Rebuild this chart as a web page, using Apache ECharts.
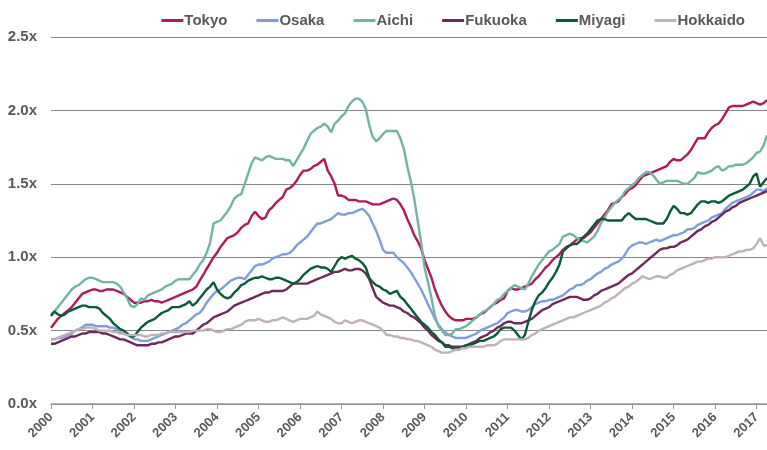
<!DOCTYPE html>
<html>
<head>
<meta charset="utf-8">
<script src="https://cdn.jsdelivr.net/npm/echarts@6/dist/echarts.min.js"></script>
<style>
  html, body { margin: 0; padding: 0; background: #fff; }
  #chart { width: 767px; height: 450px; }
</style>
</head>
<body>
<div id="chart"></div>
<script>
// monthly, Jan 2000 .. Apr 2017
const years = [2000, 2001, 2002, 2003, 2004, 2005, 2006, 2007, 2008,
  2009, 2010, 2011, 2012, 2013, 2014, 2015, 2016, 2017];
const lastMonth = 4; // data stops in April 2017

const tokyo = [
  0.52, 0.55, 0.58, 0.60, 0.62, 0.64, 0.66, 0.69, 0.72, 0.75, 0.76, 0.77,
  0.78, 0.78, 0.77, 0.77, 0.78, 0.78, 0.78, 0.77, 0.76, 0.75, 0.73, 0.71,
  0.69, 0.69, 0.69, 0.70, 0.70, 0.71, 0.70, 0.70, 0.69, 0.70, 0.71, 0.72,
  0.73, 0.74, 0.75, 0.76, 0.77, 0.78, 0.80, 0.84, 0.88, 0.92, 0.96, 1.00,
  1.03, 1.07, 1.10, 1.13, 1.14, 1.15, 1.17, 1.20, 1.22, 1.23, 1.28, 1.31,
  1.28, 1.26, 1.27, 1.32, 1.34, 1.37, 1.39, 1.41, 1.46, 1.47, 1.49, 1.52,
  1.56, 1.59, 1.59, 1.60, 1.62, 1.63, 1.65, 1.67, 1.59, 1.55, 1.50, 1.42,
  1.42, 1.41, 1.39, 1.39, 1.39, 1.38, 1.38, 1.38, 1.37, 1.36, 1.36, 1.36,
  1.37, 1.38, 1.39, 1.40, 1.39, 1.36, 1.32, 1.26, 1.21, 1.15, 1.11, 1.06,
  0.98, 0.92, 0.86, 0.78, 0.72, 0.67, 0.63, 0.60, 0.58, 0.57, 0.57, 0.57,
  0.58, 0.58, 0.58, 0.59, 0.61, 0.62, 0.64, 0.66, 0.68, 0.69, 0.71, 0.72,
  0.77, 0.79, 0.78, 0.78, 0.79, 0.80, 0.81, 0.82, 0.85, 0.87, 0.90, 0.93,
  0.95, 0.98, 1.00, 1.02, 1.05, 1.07, 1.08, 1.10, 1.12, 1.13, 1.13, 1.15,
  1.17, 1.20, 1.23, 1.26, 1.29, 1.32, 1.36, 1.37, 1.38, 1.41, 1.43, 1.46,
  1.47, 1.49, 1.52, 1.55, 1.56, 1.57, 1.58, 1.59, 1.60, 1.61, 1.62, 1.65,
  1.67, 1.66, 1.66, 1.68, 1.70, 1.73, 1.77, 1.81, 1.81, 1.81, 1.85, 1.88,
  1.90, 1.91, 1.94, 1.98, 2.02, 2.03, 2.03, 2.03, 2.03, 2.04, 2.05, 2.06,
  2.05, 2.04, 2.05, 2.07
];

const osaka = [
  0.44, 0.44, 0.45, 0.45, 0.46, 0.47, 0.48, 0.50, 0.51, 0.52, 0.54, 0.54,
  0.54, 0.53, 0.53, 0.53, 0.53, 0.52, 0.52, 0.51, 0.49, 0.48, 0.47, 0.46,
  0.44, 0.44, 0.43, 0.43, 0.43, 0.44, 0.45, 0.46, 0.47, 0.48, 0.49, 0.50,
  0.51, 0.52, 0.54, 0.55, 0.57, 0.59, 0.61, 0.62, 0.65, 0.69, 0.72, 0.75,
  0.77, 0.78, 0.80, 0.82, 0.84, 0.85, 0.86, 0.86, 0.85, 0.88, 0.91, 0.94,
  0.95, 0.95, 0.96, 0.97, 0.99, 1.00, 1.01, 1.02, 1.02, 1.03, 1.05, 1.08,
  1.10, 1.12, 1.14, 1.17, 1.20, 1.23, 1.23, 1.24, 1.25, 1.26, 1.28, 1.30,
  1.29, 1.29, 1.30, 1.30, 1.31, 1.32, 1.33, 1.31, 1.28, 1.23, 1.18, 1.12,
  1.05, 1.03, 1.03, 1.03, 1.00, 0.98, 0.96, 0.93, 0.90, 0.86, 0.82, 0.78,
  0.73, 0.68, 0.63, 0.58, 0.54, 0.51, 0.49, 0.47, 0.46, 0.45, 0.45, 0.45,
  0.45, 0.46, 0.47, 0.48, 0.50, 0.51, 0.52, 0.53, 0.54, 0.55, 0.57, 0.59,
  0.62, 0.63, 0.64, 0.64, 0.63, 0.63, 0.64, 0.66, 0.68, 0.69, 0.70, 0.70,
  0.71, 0.71, 0.72, 0.73, 0.74, 0.76, 0.78, 0.79, 0.81, 0.81, 0.82, 0.84,
  0.85, 0.87, 0.89, 0.90, 0.92, 0.93, 0.95, 0.96, 0.97, 0.99, 1.02, 1.06,
  1.08, 1.09, 1.10, 1.10, 1.09, 1.10, 1.11, 1.12, 1.11, 1.12, 1.13, 1.14,
  1.15, 1.15, 1.16, 1.17, 1.19, 1.19, 1.20, 1.22, 1.23, 1.24, 1.25, 1.27,
  1.28, 1.29, 1.30, 1.33, 1.35, 1.37, 1.38, 1.39, 1.40, 1.41, 1.42, 1.44,
  1.46, 1.46, 1.45, 1.47
];

const aichi = [
  0.61, 0.63, 0.66, 0.69, 0.72, 0.75, 0.78, 0.80, 0.81, 0.83, 0.85, 0.86,
  0.86, 0.85, 0.84, 0.83, 0.83, 0.83, 0.83, 0.82, 0.80, 0.76, 0.72, 0.67,
  0.66, 0.68, 0.72, 0.71, 0.74, 0.75, 0.76, 0.77, 0.78, 0.80, 0.81, 0.82,
  0.84, 0.85, 0.85, 0.85, 0.85, 0.88, 0.91, 0.95, 0.98, 1.03, 1.10, 1.23,
  1.24, 1.25, 1.28, 1.31, 1.35, 1.40, 1.42, 1.43, 1.50, 1.57, 1.64, 1.68,
  1.67, 1.66, 1.68, 1.69, 1.68, 1.67, 1.67, 1.67, 1.66, 1.66, 1.62, 1.66,
  1.70, 1.74, 1.79, 1.84, 1.86, 1.88, 1.89, 1.91, 1.89, 1.85, 1.91, 1.93,
  1.96, 1.98, 2.03, 2.06, 2.08, 2.08, 2.06, 2.01, 1.90, 1.82, 1.79, 1.81,
  1.84, 1.86, 1.86, 1.86, 1.86, 1.81, 1.74, 1.62, 1.52, 1.40, 1.25, 1.10,
  0.93, 0.83, 0.72, 0.60, 0.53, 0.50, 0.47, 0.47, 0.48, 0.51, 0.51, 0.52,
  0.53, 0.55, 0.57, 0.59, 0.61, 0.63, 0.64, 0.66, 0.68, 0.71, 0.72, 0.75,
  0.77, 0.79, 0.81, 0.80, 0.79, 0.78, 0.82, 0.87, 0.91, 0.95, 0.98, 1.01,
  1.04, 1.05, 1.07, 1.09, 1.14, 1.15, 1.16, 1.15, 1.13, 1.12, 1.11, 1.10,
  1.12, 1.14, 1.18, 1.23, 1.27, 1.31, 1.34, 1.37, 1.39, 1.41, 1.45, 1.47,
  1.49, 1.51, 1.54, 1.56, 1.58, 1.58, 1.56, 1.53, 1.50, 1.51, 1.52, 1.52,
  1.52, 1.52, 1.51, 1.50, 1.50, 1.52, 1.54, 1.58, 1.57, 1.57, 1.58, 1.59,
  1.61, 1.62, 1.59, 1.60, 1.62, 1.62, 1.63, 1.63, 1.63, 1.64, 1.66, 1.68,
  1.71, 1.72, 1.76, 1.83
];

const fukuoka = [
  0.41, 0.41, 0.42, 0.43, 0.44, 0.45, 0.46, 0.46, 0.47, 0.48, 0.48, 0.49,
  0.49, 0.49, 0.49, 0.48, 0.48, 0.47, 0.46, 0.45, 0.44, 0.44, 0.43, 0.42,
  0.41, 0.40, 0.40, 0.40, 0.40, 0.41, 0.41, 0.42, 0.42, 0.43, 0.44, 0.45,
  0.46, 0.46, 0.47, 0.48, 0.48, 0.48, 0.50, 0.52, 0.54, 0.55, 0.57, 0.59,
  0.60, 0.61, 0.62, 0.63, 0.65, 0.67, 0.68, 0.69, 0.70, 0.71, 0.72, 0.73,
  0.74, 0.75, 0.76, 0.76, 0.77, 0.77, 0.77, 0.77, 0.78, 0.80, 0.82, 0.82,
  0.82, 0.82, 0.82, 0.83, 0.84, 0.85, 0.86, 0.87, 0.88, 0.89, 0.90, 0.90,
  0.91, 0.92, 0.91, 0.91, 0.92, 0.92, 0.91, 0.89, 0.85, 0.79, 0.73, 0.71,
  0.69, 0.68, 0.67, 0.67, 0.66, 0.65, 0.63, 0.62, 0.60, 0.59, 0.57, 0.55,
  0.52, 0.50, 0.47, 0.45, 0.43, 0.42, 0.40, 0.40, 0.39, 0.39, 0.39, 0.39,
  0.40, 0.41, 0.42, 0.43, 0.45, 0.46, 0.47, 0.49, 0.50, 0.52, 0.53, 0.55,
  0.56, 0.56, 0.55, 0.55, 0.55, 0.56, 0.57, 0.58, 0.60, 0.62, 0.64, 0.65,
  0.66, 0.68, 0.69, 0.70, 0.71, 0.72, 0.73, 0.73, 0.73, 0.72, 0.71, 0.71,
  0.72, 0.74, 0.75, 0.77, 0.78, 0.79, 0.80, 0.81, 0.82, 0.84, 0.86, 0.88,
  0.89, 0.91, 0.93, 0.95, 0.97, 0.99, 1.01, 1.03, 1.05, 1.06, 1.06, 1.07,
  1.07, 1.08, 1.10, 1.11, 1.12, 1.14, 1.16, 1.18, 1.19, 1.21, 1.22, 1.24,
  1.25, 1.27, 1.29, 1.31, 1.32, 1.34, 1.35, 1.37, 1.38, 1.39, 1.40, 1.41,
  1.42, 1.43, 1.44, 1.45
];

const miyagi = [
  0.60, 0.63, 0.61, 0.60, 0.61, 0.63, 0.64, 0.65, 0.66, 0.67, 0.67, 0.66,
  0.66, 0.66, 0.65, 0.62, 0.60, 0.58, 0.55, 0.53, 0.51, 0.50, 0.48, 0.46,
  0.46, 0.49, 0.52, 0.54, 0.56, 0.57, 0.58, 0.60, 0.62, 0.63, 0.64, 0.66,
  0.66, 0.66, 0.67, 0.68, 0.70, 0.67, 0.69, 0.72, 0.75, 0.78, 0.80, 0.83,
  0.78, 0.75, 0.73, 0.72, 0.73, 0.76, 0.78, 0.81, 0.82, 0.84, 0.85, 0.86,
  0.86, 0.87, 0.86, 0.85, 0.85, 0.86, 0.86, 0.85, 0.84, 0.83, 0.82, 0.83,
  0.85, 0.88, 0.90, 0.92, 0.93, 0.94, 0.93, 0.93, 0.92, 0.90, 0.94, 0.98,
  1.00, 0.99, 1.00, 1.01, 0.99, 0.98, 0.96, 0.93, 0.86, 0.83, 0.81, 0.80,
  0.78, 0.77, 0.75, 0.76, 0.77, 0.73, 0.71, 0.68, 0.65, 0.62, 0.59, 0.56,
  0.54, 0.52, 0.49, 0.47, 0.44, 0.42, 0.39, 0.39, 0.38, 0.38, 0.38, 0.39,
  0.40, 0.40, 0.41, 0.42, 0.43, 0.43, 0.44, 0.45, 0.46, 0.48, 0.51, 0.52,
  0.52, 0.52, 0.50, 0.47, 0.44, 0.47, 0.56, 0.64, 0.70, 0.74, 0.76, 0.79,
  0.83, 0.86, 0.90, 0.95, 1.04, 1.06, 1.08, 1.09, 1.09, 1.11, 1.14, 1.16,
  1.19, 1.22, 1.25, 1.26, 1.26, 1.25, 1.25, 1.25, 1.25, 1.25, 1.28, 1.30,
  1.28, 1.26, 1.26, 1.26, 1.26, 1.25, 1.24, 1.23, 1.23, 1.23, 1.26, 1.31,
  1.35, 1.33, 1.30, 1.30, 1.29, 1.30, 1.33, 1.36, 1.38, 1.38, 1.37, 1.38,
  1.38, 1.37, 1.38, 1.40, 1.42, 1.43, 1.44, 1.45, 1.46, 1.48, 1.50, 1.55,
  1.57, 1.48, 1.51, 1.54
];

const hokkaido = [
  0.44, 0.44, 0.45, 0.46, 0.47, 0.48, 0.49, 0.50, 0.51, 0.51, 0.52, 0.52,
  0.52, 0.51, 0.50, 0.50, 0.50, 0.50, 0.49, 0.49, 0.48, 0.48, 0.47, 0.47,
  0.47, 0.47, 0.47, 0.46, 0.46, 0.47, 0.47, 0.47, 0.48, 0.48, 0.49, 0.49,
  0.49, 0.49, 0.49, 0.49, 0.49, 0.50, 0.50, 0.50, 0.50, 0.51, 0.51, 0.50,
  0.49, 0.49, 0.50, 0.51, 0.51, 0.52, 0.53, 0.54, 0.56, 0.57, 0.57, 0.57,
  0.58, 0.57, 0.56, 0.56, 0.57, 0.57, 0.58, 0.59, 0.58, 0.57, 0.56, 0.57,
  0.58, 0.58, 0.58, 0.59, 0.60, 0.63, 0.61, 0.60, 0.59, 0.58, 0.56, 0.55,
  0.55, 0.57, 0.56, 0.55, 0.56, 0.57, 0.57, 0.56, 0.55, 0.54, 0.53, 0.52,
  0.50, 0.47, 0.47, 0.46, 0.46, 0.45, 0.45, 0.44, 0.44, 0.43, 0.43, 0.42,
  0.41, 0.40, 0.39, 0.37, 0.36, 0.35, 0.35, 0.35, 0.36, 0.37, 0.37, 0.38,
  0.38, 0.39, 0.39, 0.39, 0.39, 0.39, 0.40, 0.40, 0.40, 0.41, 0.43, 0.44,
  0.44, 0.44, 0.44, 0.44, 0.44, 0.44, 0.45, 0.47, 0.48, 0.50, 0.51, 0.52,
  0.53, 0.54, 0.55, 0.56, 0.57, 0.58, 0.59, 0.59, 0.60, 0.61, 0.62, 0.63,
  0.64, 0.65, 0.66, 0.67, 0.69, 0.70, 0.72, 0.73, 0.75, 0.77, 0.79, 0.80,
  0.82, 0.83, 0.85, 0.87, 0.86, 0.85, 0.86, 0.87, 0.87, 0.86, 0.86, 0.88,
  0.89, 0.91, 0.92, 0.93, 0.94, 0.95, 0.96, 0.97, 0.97, 0.98, 0.99, 0.99,
  1.00, 1.00, 1.00, 1.00, 1.01, 1.02, 1.03, 1.04, 1.04, 1.05, 1.05, 1.06,
  1.09, 1.13, 1.08, 1.08
];

const yTicks = [0, 0.5, 1.0, 1.5, 2.0, 2.5];

// month categories built from the year list
const months = [];
years.forEach(y => {
  for (let m = 1; m <= 12; m++) {
    if (y === 2017 && m > lastMonth) break;
    months.push(y + '-' + String(m).padStart(2, '0'));
  }
});

const textColor = '#595959';
const font = "'Liberation Sans', Arial, sans-serif";

const seriesList = [
  { name: 'Tokyo', data: tokyo, color: '#b0195b' },
  { name: 'Osaka', data: osaka, color: '#7f9dd8' },
  { name: 'Aichi', data: aichi, color: '#72b3a3' },
  { name: 'Fukuoka', data: fukuoka, color: '#6b2b58' },
  { name: 'Miyagi', data: miyagi, color: '#0b5a36' },
  { name: 'Hokkaido', data: hokkaido, color: '#bfb1b7' }
];

const chart = echarts.init(document.getElementById('chart'), null, { renderer: 'canvas' });

const isJan = (idx) => months[idx].endsWith('-01');

chart.setOption({
  animation: false,
  color: seriesList.map(s => s.color),
  legend: {
    top: 8,
    right: 17,
    itemGap: 29,
    itemWidth: 22,
    itemHeight: 3,
    icon: 'rect',
    textStyle: { color: textColor, fontSize: 15, fontWeight: 'bold', fontFamily: font, padding: [0, 0, 0, -4] },
    data: seriesList.map(s => s.name)
  },
  grid: { left: 51, right: 0, top: 37, bottom: 46, containLabel: false },
  xAxis: {
    type: 'category',
    data: months,
    boundaryGap: false,
    axisLine: { lineStyle: { color: '#999', width: 1.5 } },
    axisTick: { interval: (i) => isJan(i), length: 5, lineStyle: { color: '#999', width: 1 } },
    axisLabel: {
      interval: (i) => isJan(i),
      formatter: (v) => v.slice(0, 4),
      rotate: 45,
      margin: 11,
      color: textColor,
      fontSize: 13,
      fontWeight: 'bold',
      fontFamily: font
    },
    splitLine: { show: false }
  },
  yAxis: {
    type: 'value',
    min: yTicks[0],
    max: yTicks[yTicks.length - 1],
    interval: 0.5,
    axisLine: { show: false },
    axisTick: { show: false },
    axisLabel: {
      formatter: (v) => v.toFixed(1) + 'x',
      margin: 14,
      color: textColor,
      fontSize: 15,
      fontWeight: 'bold',
      fontFamily: font
    },
    splitLine: { lineStyle: { color: '#858585', width: 1.2 } }
  },
  series: seriesList.map(s => ({
    name: s.name,
    type: 'line',
    data: s.data,
    showSymbol: false,
    symbol: 'none',
    lineStyle: { width: 2.4, color: s.color },
    itemStyle: { color: s.color }
  }))
});
</script>
</body>
</html>
